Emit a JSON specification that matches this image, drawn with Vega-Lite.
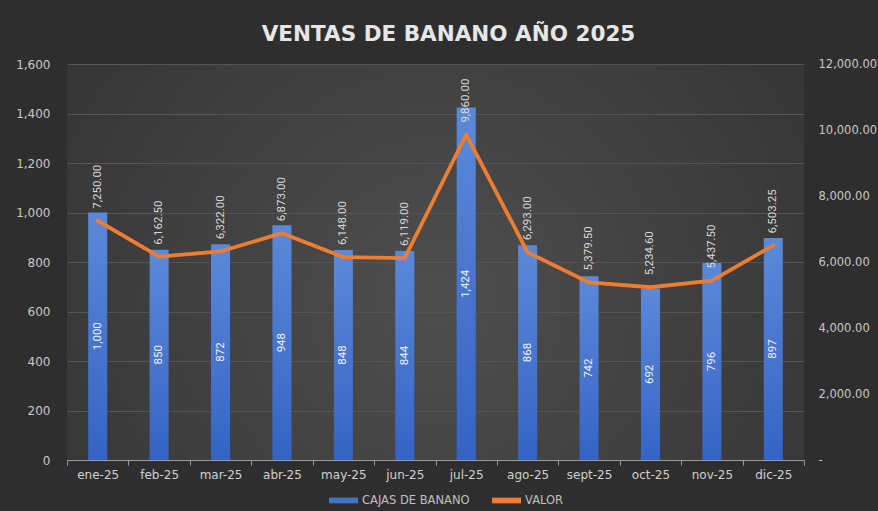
{
  "$schema": "https://vega.github.io/schema/vega-lite/v6.json",
  "autosize": "none",
  "width": 737,
  "height": 396,
  "padding": {"top": 64, "left": 67, "right": 74, "bottom": 51},
  "background": "#2e2e2e",
  "config": {
    "view": {
      "stroke": null,
      "fill": {
        "gradient": "radial",
        "x1": 0.5, "y1": 0.55, "r1": 0,
        "x2": 0.5, "y2": 0.55, "r2": 0.75,
        "stops": [
          {"offset": 0, "color": "#4e4e4e"},
          {"offset": 1, "color": "#2f2f2f"}
        ]
      }
    }
  },
  "title": {
    "text": "VENTAS DE BANANO AÑO 2025",
    "font": "DejaVu Sans",
    "fontSize": 21.5,
    "fontWeight": "bold",
    "color": "#e6e6e6",
    "offset": 13,
    "dx": 13,
    "anchor": "middle"
  },
  "data": {
    "values": [
      {"mes": "ene-25", "cajas": 1000, "valor": 7250.00},
      {"mes": "feb-25", "cajas": 850, "valor": 6162.50},
      {"mes": "mar-25", "cajas": 872, "valor": 6322.00},
      {"mes": "abr-25", "cajas": 948, "valor": 6873.00},
      {"mes": "may-25", "cajas": 848, "valor": 6148.00},
      {"mes": "jun-25", "cajas": 844, "valor": 6119.00},
      {"mes": "jul-25", "cajas": 1424, "valor": 9860.00},
      {"mes": "ago-25", "cajas": 868, "valor": 6293.00},
      {"mes": "sept-25", "cajas": 742, "valor": 5379.50},
      {"mes": "oct-25", "cajas": 692, "valor": 5234.60},
      {"mes": "nov-25", "cajas": 796, "valor": 5437.50},
      {"mes": "dic-25", "cajas": 897, "valor": 6503.25}
    ]
  },
  "encoding": {
    "x": {
      "field": "mes",
      "type": "nominal",
      "sort": null,
      "scale": {"paddingInner": 0, "paddingOuter": 0},
      "axis": {
        "title": null,
        "labelAngle": 0,
        "labelFont": "DejaVu Sans",
        "labelFontSize": 12,
        "labelColor": "#d0d0d0",
        "domainColor": "#9a9a9a",
        "tickColor": "#9a9a9a",
        "tickSize": 5,
        "tickBand": "extent",
        "labelPadding": 4,
        "grid": false
      }
    }
  },
  "layer": [
    {
      "encoding": {
        "y": {
          "field": "cajas",
          "type": "quantitative",
          "scale": {"domain": [0, 1600]},
          "axis": {
            "title": null,
            "values": [0, 200, 400, 600, 800, 1000, 1200, 1400, 1600],
            "format": ",d",
            "labelFont": "DejaVu Sans",
            "labelFontSize": 12,
            "labelColor": "#c8c8c8",
            "ticks": false,
            "domain": false,
            "labelPadding": 17,
            "grid": true,
            "gridColor": "#555555",
            "gridWidth": 1
          }
        }
      },
      "layer": [
        {
          "mark": {
            "type": "bar",
            "width": {"band": 0.31},
            "strokeWidth": 0,
            "fill": {
              "gradient": "linear",
              "x1": 0, "y1": 0, "x2": 0, "y2": 1,
              "stops": [
                {"offset": 0, "color": "#5b89d9"},
                {"offset": 1, "color": "#3563c4"}
              ]
            }
          }
        },
        {
          "mark": {"type": "bar", "width": {"band": 0.31}, "opacity": 0},
          "encoding": {
            "color": {
              "datum": "CAJAS DE BANANO",
              "type": "nominal",
              "scale": {"domain": ["CAJAS DE BANANO", "VALOR"], "range": ["#4472C4", "#ED7D31"]},
              "legend": {
                "orient": "none",
                "legendX": 262,
                "legendY": 422,
                "direction": "horizontal",
                "title": null,
                "symbolType": "M-1,-0.2H1V0.2H-1Z",
                "symbolSize": 841,
                "symbolOpacity": 1,
                "symbolStrokeWidth": 0,
                "labelFont": "DejaVu Sans",
                "labelFontSize": 11.5,
                "labelColor": "#c0c0c0",
                "labelOffset": 4,
                "columnPadding": 22,
                "padding": 0
              }
            }
          }
        }
      ]
    },
    {
      "mark": {
        "type": "text",
        "angle": 270,
        "align": "center",
        "baseline": "middle",
        "font": "Roboto",
        "fontSize": 11.5,
        "color": "#f2f2f2"
      },
      "encoding": {
        "y": {"field": "cajas", "type": "quantitative", "scale": {"domain": [0, 3200]}, "axis": null},
        "text": {"field": "cajas", "type": "quantitative", "format": ",d"}
      }
    },
    {
      "encoding": {
        "y": {
          "field": "valor",
          "type": "quantitative",
          "scale": {"domain": [0, 12000]},
          "axis": {
            "orient": "right",
            "title": null,
            "values": [0, 2000, 4000, 6000, 8000, 10000, 12000],
            "labelExpr": "datum.value == 0 ? '-' : format(datum.value, ',.2f')",
            "labelFont": "DejaVu Sans",
            "labelFontSize": 11.5,
            "labelColor": "#c8c8c8",
            "ticks": false,
            "domain": false,
            "grid": false,
            "labelPadding": 14
          }
        }
      },
      "layer": [
        {
          "mark": {"type": "line", "strokeWidth": 3.8, "strokeJoin": "round", "strokeCap": "round"},
          "encoding": {
            "color": {"datum": "VALOR", "type": "nominal"}
          }
        },
        {
          "mark": {
            "type": "text",
            "angle": 270,
            "align": "left",
            "baseline": "middle",
            "dx": 12,
            "font": "Roboto",
            "fontSize": 11.5,
            "color": "#d9d9d9"
          },
          "encoding": {
            "text": {"field": "valor", "type": "quantitative", "format": ",.2f"}
          }
        }
      ]
    }
  ],
  "resolve": {"scale": {"y": "independent"}}
}
